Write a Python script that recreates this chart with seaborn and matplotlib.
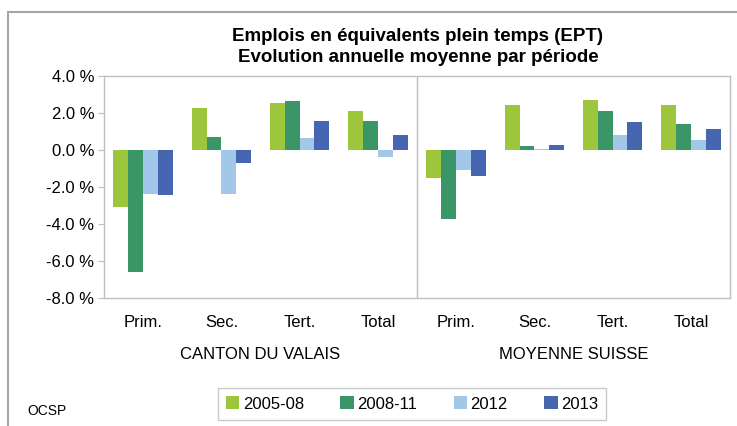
import pandas as pd
import seaborn as sns
from matplotlib import pyplot as plt
from matplotlib import ticker as ticktools
from matplotlib.patches import Rectangle

# data (annual average change, %)
regions = ["CANTON DU VALAIS", "MOYENNE SUISSE"]
sectors = ["Prim.", "Sec.", "Tert.", "Total"]
periods = ["2005-08", "2008-11", "2012", "2013"]

valais_2005_08 = [-3.1, 2.25, 2.52, 2.09]
valais_2008_11 = [-6.6, 0.70, 2.63, 1.55]
valais_2012 = [-2.36, -2.36, 0.63, -0.36]
valais_2013 = [-2.41, -0.68, 1.55, 0.79]

suisse_2005_08 = [-1.5, 2.41, 2.68, 2.41]
suisse_2008_11 = [-3.71, 0.20, 2.09, 1.39]
suisse_2012 = [-1.08, 0.08, 0.81, 0.52]
suisse_2013 = [-1.39, 0.26, 1.50, 1.12]

colors = ["#9DC63D", "#3A9666", "#A3C7E8", "#4765B0"]

# build long table
rows = []
series = {
    regions[0]: [valais_2005_08, valais_2008_11, valais_2012, valais_2013],
    regions[1]: [suisse_2005_08, suisse_2008_11, suisse_2012, suisse_2013],
}
order = []
for r in regions:
    for s in sectors:
        order.append(r + "|" + s)
for r in regions:
    for p, vals in zip(periods, series[r]):
        for s, v in zip(sectors, vals):
            rows.append({"cat": r + "|" + s, "period": p, "value": v})
df = pd.DataFrame(rows)

sns.set_style("white")
plt.rcParams["font.family"] = ["Liberation Sans", "DejaVu Sans"]
plt.rcParams["text.color"] = "black"
plt.rcParams["xtick.color"] = "black"
plt.rcParams["ytick.color"] = "black"

fig = plt.figure(figsize=(7.37, 4.26), dpi=100)
ax = fig.add_axes([104 / 737, 1 - 298 / 426, (730 - 104) / 737, (298 - 76) / 426])

sns.barplot(data=df, x="cat", y="value", hue="period", order=order,
            hue_order=periods, palette=colors, width=0.76, gap=0,
            saturation=1, linewidth=0, ax=ax, legend=True)

ax.set_ylim(-8, 4)
ax.set_xlim(-0.5, len(order) - 0.5)
ax.yaxis.set_major_locator(ticktools.MultipleLocator(2))
ax.yaxis.set_major_formatter(ticktools.FuncFormatter(lambda v, p: f"{v:.1f} %"))
ax.set_xticks(range(len(order)))
ax.set_xticklabels([c.split("|")[1] for c in order])
ax.set_xlabel("")
ax.set_ylabel("")
ax.tick_params(axis="y", labelsize=12, length=4, color="#BFBFBF", labelcolor="black",
               left=True, pad=3)
ax.tick_params(axis="x", labelsize=12, length=0, pad=12, labelcolor="black")
for sp in ax.spines.values():
    sp.set_color("#BFBFBF")
    sp.set_linewidth(1)
ax.axvline(3.5, color="#BFBFBF", linewidth=1)

# group labels
ax.text(0.25, -0.255, regions[0], transform=ax.transAxes, ha="center",
        va="center", fontsize=12)
ax.text(0.75, -0.255, regions[1], transform=ax.transAxes, ha="center",
        va="center", fontsize=12)

fig.text(418 / 737, 1 - 47 / 426,
         "Emplois en équivalents plein temps (EPT)\nEvolution annuelle moyenne par période",
         ha="center", va="center", fontsize=13.5, fontweight="bold", linespacing=1.25)

leg = ax.legend(loc="center", bbox_to_anchor=(412 / 737, 1 - 404 / 426),
                bbox_transform=fig.transFigure, ncol=4, frameon=True,
                fancybox=False, fontsize=12, handlelength=0.8, handleheight=0.8,
                handletextpad=0.2, columnspacing=2.2, borderpad=0.5)
leg.get_frame().set_edgecolor("#BFBFBF")
leg.get_frame().set_linewidth(1)

fig.text(27 / 737, 1 - 411 / 426, "OCSP", ha="left", va="center", fontsize=10)

fig.patches.append(Rectangle((8 / 737, -0.05), 1.0, 1 - 12 / 426 + 0.05,
                             transform=fig.transFigure, fill=False,
                             edgecolor="#A6A6A6", linewidth=1.5))

fig.savefig("out.png", dpi=100)
